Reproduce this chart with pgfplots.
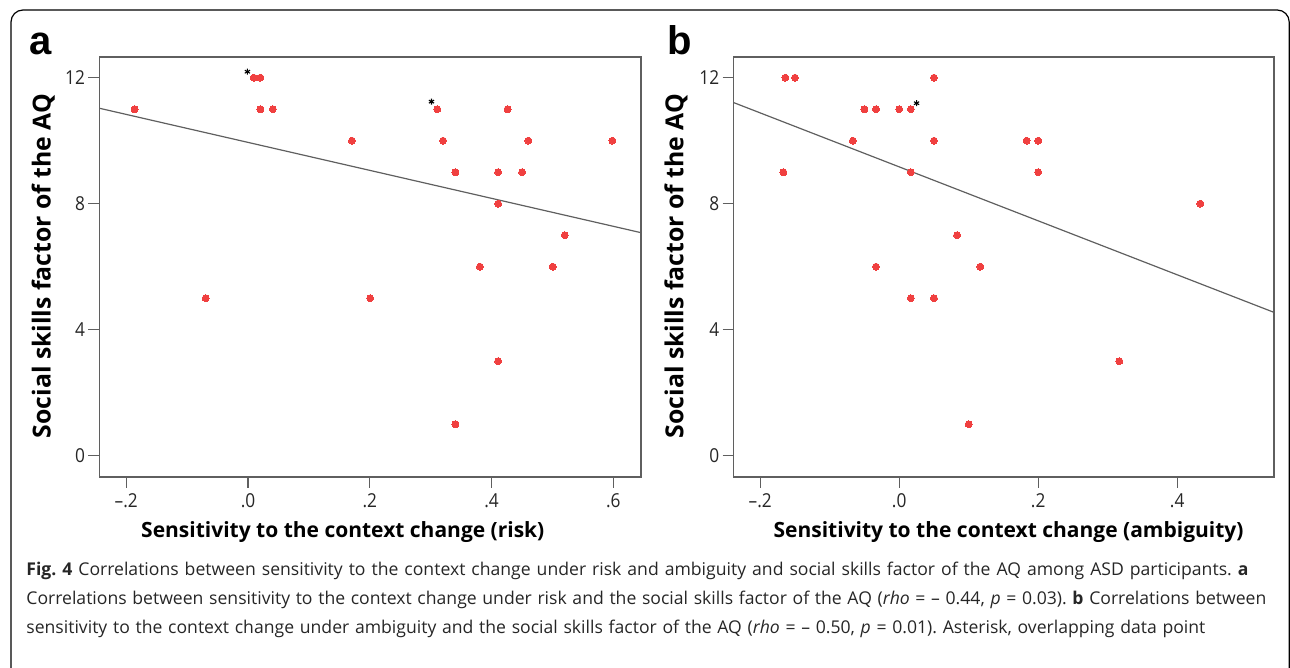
\documentclass[border=0pt]{standalone}
\usepackage{fontspec}
\setmainfont{Open Sans}
\usepackage{pgfplots}
\pgfplotsset{compat=1.18}
\newfontfamily\lblfont{Open Sans}
\newfontfamily\capfont{Open Sans}
\newfontfamily\tickfont[FakeStretch=0.9]{Open Sans}
\newfontfamily\panelfont{Liberation Sans}
\definecolor{dotred}{RGB}{240,64,64}
\definecolor{axgray}{RGB}{95,95,95}
\pgfplotsset{
  sp/.style={
    scale only axis, height=210pt,
    ymin=-0.676, ymax=12.657,
    axis line style={axgray, line width=0.55pt},
    tick style={axgray, line width=0.55pt},
    tick align=outside, major tick length=5.5pt,
    xtick pos=bottom, ytick pos=left,
    ytick={0,4,8,12}, yticklabels={0,4,8,12},
    ticklabel style={font=\tickfont\fontsize{9.6}{11}\selectfont, text=black!85},
    yticklabel style={inner sep=1.5pt},
    xticklabel style={inner sep=2.5pt},
  },
  dots/.style={only marks, color=dotred, mark=*, mark size=1.75pt, mark options={draw=dotred, fill=dotred, line width=0pt}},
  fit/.style={axgray, line width=0.6pt},
  ast/.style={only marks, color=black, mark=asterisk, mark size=1.5pt, mark options={black, line width=0.55pt}},
}
\begin{document}
\begin{tikzpicture}
\useasboundingbox (0pt,0pt) rectangle (645pt,334pt);
\draw[line width=0.6pt, rounded corners=6pt] (5.5pt,-6pt) rectangle (644.6pt,329pt);
% panel a
\begin{axis}[sp, at={(49.7pt,95.5pt)}, anchor=south west, width=270.8pt,
  xmin=-0.2441, xmax=0.6456,
  xtick={-0.2,0,0.2,0.4,0.6}, xticklabels={–.2,.0,.2,.4,.6}]
\addplot[fit] coordinates {(-0.2441,11.03) (0.6456,7.08)};
\addplot[dots] coordinates {
(-0.1864,11) (0.0095,12) (0.0204,12) (0.0204,11) (0.0408,11) (0.1707,10)
(0.3109,11) (0.3204,10) (0.3408,9) (0.4265,11) (0.4109,9) (0.4503,9)
(0.4605,10) (0.5986,10) (0.4109,8) (0.5204,7) (0.381,6) (0.5007,6)
(-0.0694,5) (0.2007,5) (0.4109,3) (0.3408,1)};
\addplot[ast] coordinates {(-0.001,12.19) (0.3014,11.24)};
\end{axis}
% panel b
\begin{axis}[sp, at={(366.8pt,95.5pt)}, anchor=south west, width=270.2pt,
  xmin=-0.2383, xmax=0.5393,
  xtick={-0.2,0,0.2,0.4}, xticklabels={–.2,.0,.2,.4}]
\addplot[fit] coordinates {(-0.2383,11.21) (0.5393,4.55)};
\addplot[dots] coordinates {
(-0.1638,12) (-0.150,12) (0.050,12) (-0.050,11) (-0.0334,11) (0,11)
(0.0167,11) (-0.0667,10) (0.050,10) (0.1833,10) (0.200,10) (-0.1667,9)
(0.0167,9) (0.200,9) (0.4333,8) (0.0833,7) (-0.0334,6) (0.1167,6)
(0.0167,5) (0.050,5) (0.3167,3) (0.100,1)};
\addplot[ast] coordinates {(0.025,11.19)};
\end{axis}
% panel letters
\node[anchor=base west, inner sep=0pt, font=\panelfont\bfseries\fontsize{20}{24}\selectfont] at (14.5pt,306.5pt) {a};
\node[anchor=base west, inner sep=0pt, font=\panelfont\bfseries\fontsize{20}{24}\selectfont] at (333.5pt,306.5pt) {b};
% axis labels
\node[rotate=90, anchor=base, inner sep=0pt, font=\lblfont\bfseries\fontsize{12.4}{14}\selectfont] at (25.3pt,201pt) {Social skills factor of the AQ};
\node[rotate=90, anchor=base, inner sep=0pt, font=\lblfont\bfseries\fontsize{12.4}{14}\selectfont] at (341.7pt,201pt) {Social skills factor of the AQ};
\node[anchor=base, inner sep=0pt, font=\lblfont\bfseries\fontsize{10.5}{12}\selectfont] at (171.4pt,65pt) {Sensitivity to the context change (risk)};
\node[anchor=base, inner sep=0pt, font=\lblfont\bfseries\fontsize{10.5}{12}\selectfont] at (504.3pt,65pt) {Sensitivity to the context change (ambiguity)};
% caption
\begin{scope}[every node/.style={anchor=base west, inner sep=0pt, font=\capfont\fontsize{8.8}{10}\selectfont\frenchspacing, text=black!85}]
\node at (13pt,46.2pt) {\makebox[611pt][s]{\textbf{Fig. 4} Correlations between sensitivity to the context change under risk and ambiguity and social skills factor of the AQ among ASD participants. \textbf{a}}};
\node at (13pt,31.7pt) {\makebox[620pt][s]{Correlations between sensitivity to the context change under risk and the social skills factor of the AQ (\textit{rho} = – 0.44, \textit{p} = 0.03). \textbf{b} Correlations between}};
\node at (13pt,17.2pt) {\makebox[589.5pt][s]{sensitivity to the context change under ambiguity and the social skills factor of the AQ (\textit{rho} = – 0.50, \textit{p} = 0.01). Asterisk, overlapping data point}};
\end{scope}
\end{tikzpicture}
\end{document}
